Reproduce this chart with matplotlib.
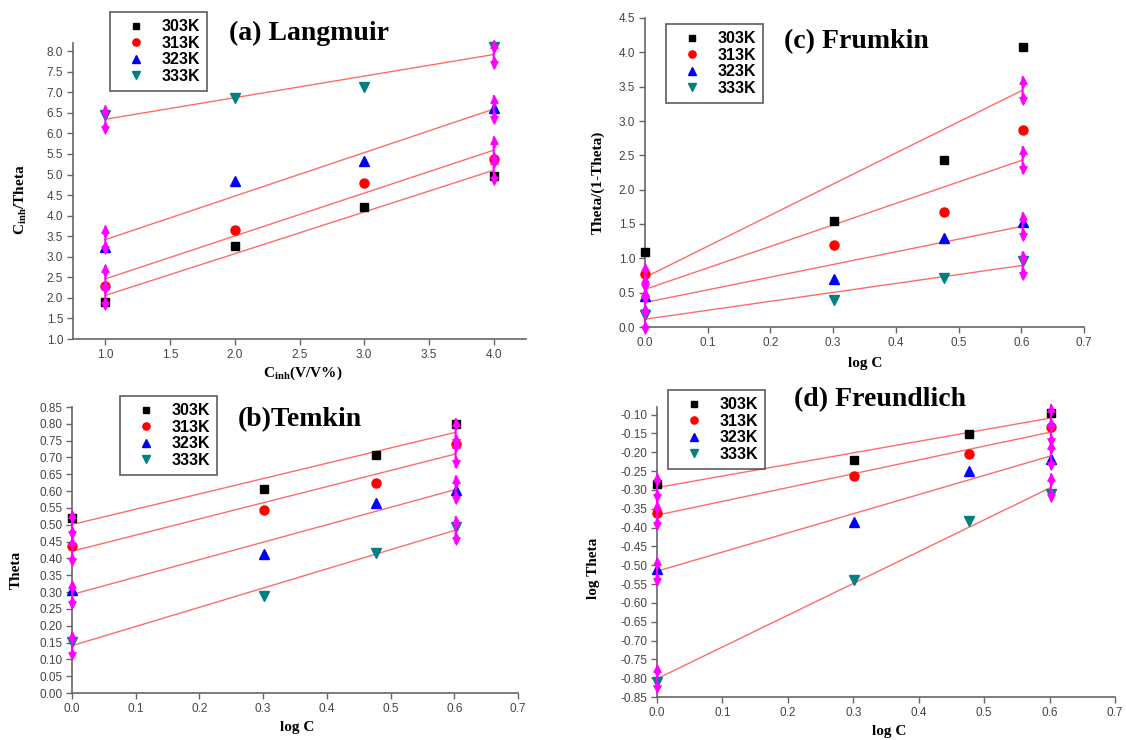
import matplotlib
matplotlib.use('Agg')
import matplotlib.pyplot as plt
import matplotlib.transforms as mtransforms
import numpy as np

plt.rcParams['mathtext.fontset'] = 'custom'
plt.rcParams['mathtext.bf'] = 'Liberation Serif:bold'
plt.rcParams['mathtext.rm'] = 'Liberation Serif'

# Adsorption isotherm data
temps = ['303K', '313K', '323K', '333K']
colors = ['black', 'red', 'blue', '#008080']
markers = ['s', 'o', '^', 'v']
msizes = [6, 6.5, 7.5, 7.5]

c_inh = [1.0, 2.0, 3.0, 4.0]
log_c = [0.0, 0.301, 0.477, 0.602]

langmuir = [[1.89, 3.27, 4.21, 4.96],
            [2.28, 3.66, 4.79, 5.38],
            [3.24, 4.85, 5.32, 6.61],
            [6.44, 6.86, 7.13, 8.10]]
temkin = [[0.519, 0.606, 0.706, 0.800],
          [0.437, 0.545, 0.625, 0.741],
          [0.306, 0.412, 0.564, 0.604],
          [0.152, 0.288, 0.417, 0.493]]
frumkin = [[1.09, 1.54, 2.43, 4.08],
           [0.77, 1.20, 1.67, 2.87],
           [0.45, 0.705, 1.29, 1.53],
           [0.17, 0.40, 0.715, 0.965]]
freundlich = [[-0.284, -0.220, -0.151, -0.097],
              [-0.361, -0.264, -0.205, -0.133],
              [-0.510, -0.385, -0.249, -0.218],
              [-0.809, -0.540, -0.382, -0.311]]

W, H = 1126, 740
fig = plt.figure(figsize=(W / 100, H / 100), dpi=100)


def px_rect(left, top, right, bottom):
    return [left / W, 1 - bottom / H, (right - left) / W, (bottom - top) / H]


def ftext(x, y, s, **kw):
    fig.text(x / W, 1 - y / H, s, ha='center', va='center', **kw)


def arrow_mark(ax, x, y):
    # magenta double arrow drawn at both ends of a fit line
    mag = '#ff00ff'
    for dy in (9.5, -9.5):
        ax.annotate('', xy=(x, y), xycoords='data', xytext=(0, dy), textcoords='offset points',
                    arrowprops=dict(arrowstyle='-', color=mag, lw=1.4, shrinkA=0, shrinkB=0),
                    annotation_clip=False, zorder=4)
    for dy, m, ms in [(7.5, '^', 5.5), (-7.5, 'v', 5.5), (3.5, 'v', 4), (-3.5, '^', 4)]:
        tr = mtransforms.offset_copy(ax.transData, fig=fig, x=0, y=dy, units='points')
        ax.plot([x], [y], marker=m, ms=ms, color=mag, mec=mag, mew=0.5,
                transform=tr, clip_on=False, zorder=4)


panels = [
    dict(rect=(73, 43, 526, 339), x=c_inh, ys=langmuir, xlim=(0.75, 4.25), ylim=(1.0, 8.2),
         xt=np.arange(1.0, 4.01, 0.5), yt=np.arange(1.0, 8.01, 0.5), fmt='%.1f',
         title='(a) Langmuir', tpos=(309, 33), leg=(110, 12)),
    dict(rect=(645, 18, 1084, 327), x=log_c, ys=frumkin, xlim=(0.0, 0.7), ylim=(0.0, 4.5),
         xt=np.arange(0.0, 0.71, 0.1), yt=np.arange(0.0, 4.51, 0.5), fmt='%.1f',
         title='(c) Frumkin', tpos=(856, 42), leg=(666, 24)),
    dict(rect=(72, 407, 518, 693), x=log_c, ys=temkin, xlim=(0.0, 0.7), ylim=(0.0, 0.85),
         xt=np.arange(0.0, 0.71, 0.1), yt=np.arange(0.0, 0.851, 0.05), fmt='%.2f',
         title='(b)Temkin', tpos=(300, 420), leg=(120, 396)),
    dict(rect=(657, 407, 1115, 697), x=log_c, ys=freundlich, xlim=(0.0, 0.7), ylim=(-0.85, -0.08),
         xt=np.arange(0.0, 0.71, 0.1), yt=np.arange(-0.85, -0.099, 0.05), fmt='%.2f',
         title='(d) Freundlich', tpos=(880, 400), leg=(668, 390)),
]

for p in panels:
    ax = fig.add_axes(px_rect(*p['rect']))
    ax.set_facecolor('none')
    x = np.array(p['x'])
    for i, t in enumerate(temps):
        y = np.array(p['ys'][i])
        k, b = np.polyfit(x, y, 1)
        xf = np.array([x[0], x[-1]])
        ax.plot(xf, k * xf + b, color='#ff6b6b', lw=1.0, zorder=2)
        ax.plot(x, y, linestyle='none', marker=markers[i], ms=msizes[i], color=colors[i],
                mec=colors[i], label=t, clip_on=False, zorder=3)
        arrow_mark(ax, xf[0], k * xf[0] + b)
        arrow_mark(ax, xf[1], k * xf[1] + b)
    ax.set_xlim(*p['xlim'])
    ax.set_ylim(*p['ylim'])
    ax.set_xticks(p['xt'])
    ax.set_yticks(p['yt'])
    ax.xaxis.set_major_formatter(matplotlib.ticker.FormatStrFormatter('%.1f'))
    ax.yaxis.set_major_formatter(matplotlib.ticker.FormatStrFormatter(p['fmt']))
    for s in ['top', 'right']:
        ax.spines[s].set_visible(False)
    for s in ['left', 'bottom']:
        ax.spines[s].set_color('#666666')
        ax.spines[s].set_linewidth(1.2)
    ax.tick_params(direction='out', length=4, width=1, color='#666666',
                   labelsize=8.5, labelcolor='#444444', pad=3)
    for lab in ax.get_xticklabels() + ax.get_yticklabels():
        lab.set_family('Liberation Sans')
    leg = ax.legend(loc='upper left', bbox_to_anchor=(p['leg'][0] / W, 1 - p['leg'][1] / H),
                    bbox_transform=fig.transFigure, frameon=True, fancybox=False,
                    prop=dict(family='Liberation Sans', weight='bold', size=11.5),
                    handletextpad=0.35, labelspacing=0.1, borderpad=0.45,
                    borderaxespad=0, handlelength=2.4, markerscale=0.8)
    leg.get_frame().set_edgecolor('#333333')
    leg.get_frame().set_linewidth(1.2)
    ftext(p['tpos'][0], p['tpos'][1], p['title'], family='Liberation Serif',
          weight='bold', size=20)

# axis labels
lab_kw = dict(family='Liberation Serif', weight='bold', size=11)
ftext(303, 373, r'C$_{\mathbf{inh}}$(V/V%)', **lab_kw)
ftext(297, 727, 'log C', **lab_kw)
ftext(865, 363, 'log C', **lab_kw)
ftext(889, 732, 'log C', **lab_kw)
ftext(21, 200, r'C$_{\mathbf{inh}}$/Theta', rotation=90, **lab_kw)
ftext(16, 570, 'Theta', rotation=90, **lab_kw)
ftext(598, 182, 'Theta/(1-Theta)', rotation=90, **lab_kw)
ftext(594, 568, 'log Theta', rotation=90, **lab_kw)

fig.savefig('out.png', dpi=100)
